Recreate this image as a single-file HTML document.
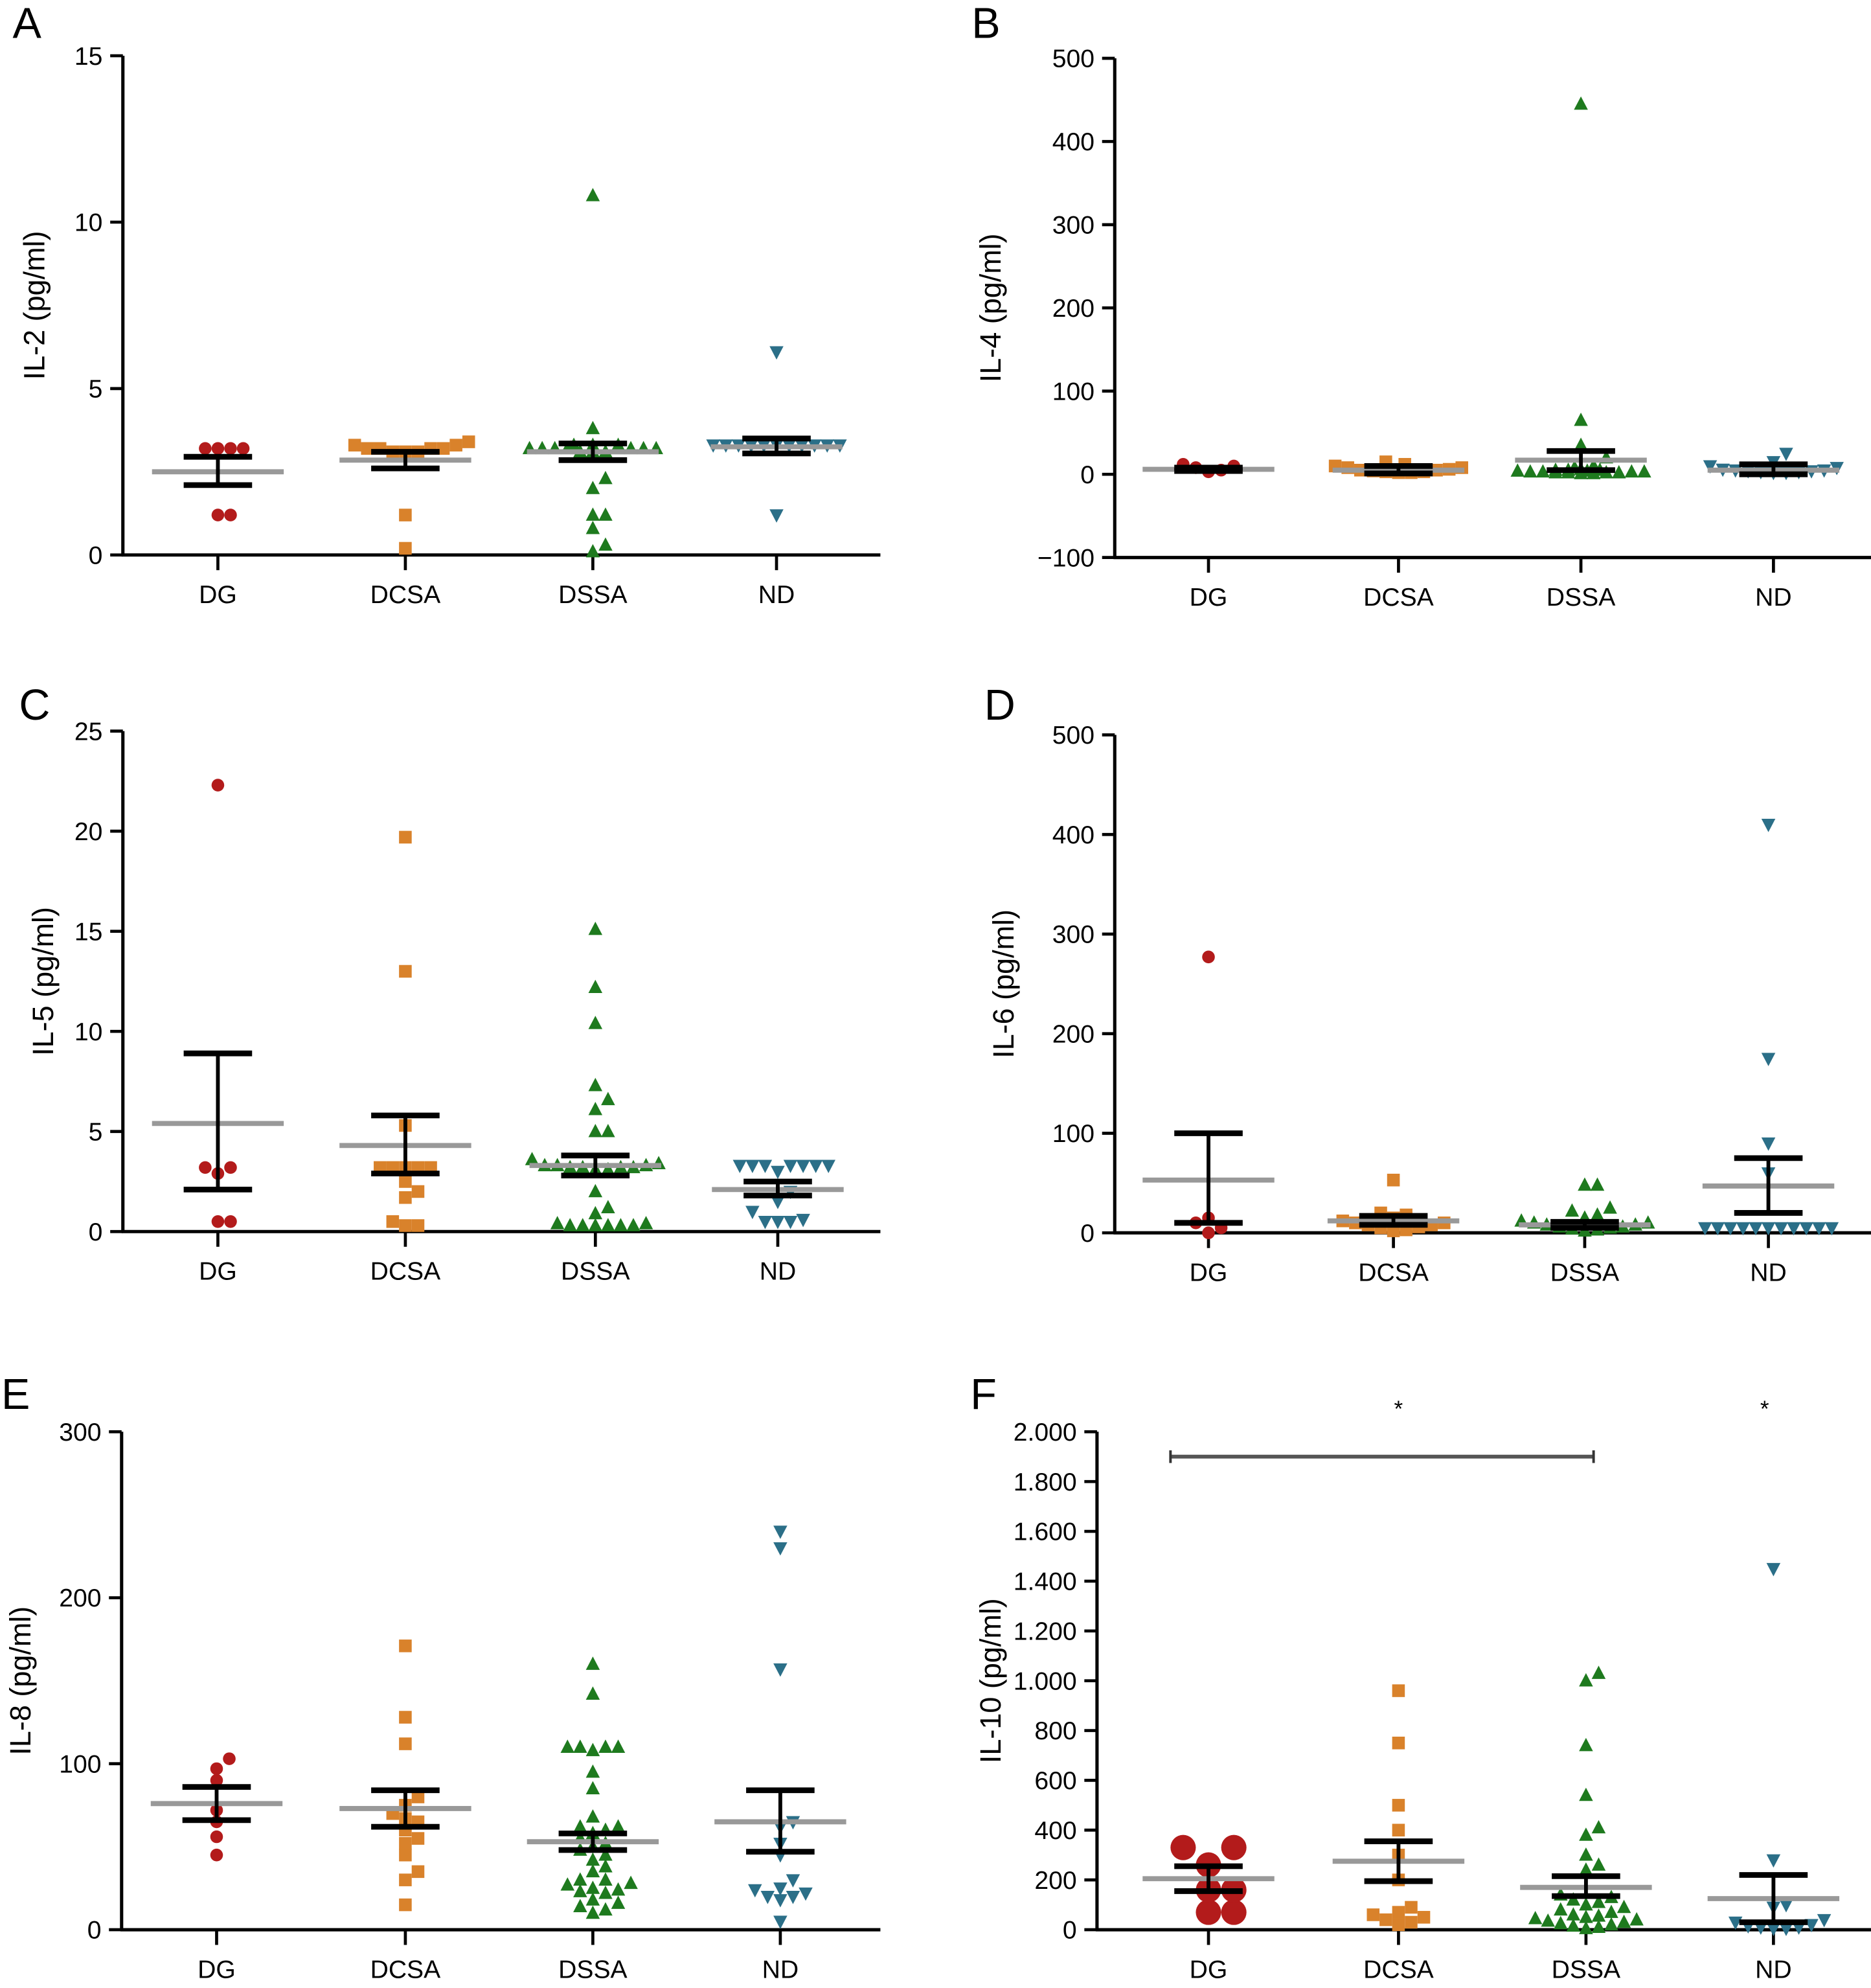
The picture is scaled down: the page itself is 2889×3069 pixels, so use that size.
<!DOCTYPE html>
<html><head><meta charset="utf-8"><title>Cytokine levels</title>
<style>
html,body{margin:0;padding:0;background:#fff;}
svg{display:block;}
text{font-family:"Liberation Sans",Arial,sans-serif;fill:#000;}
</style></head>
<body>
<svg id="fig" xmlns="http://www.w3.org/2000/svg" width="2889" height="3069" viewBox="0 0 1477 1569" preserveAspectRatio="none"></svg>
<script>
const categories = ["DG","DCSA","DSSA","ND"];

const il2Values = [[3.2,3.2,3.2,3.2,1.2,1.2],[3.1,3.2,3.3,3.2,3.1,3.4,3.2,3.1,3.2,3.3,1.2,0.2],[10.8,3.8,3.3,3.2,3.2,3.1,3.2,3.3,3.2,3.1,3.2,3.2,3.3,3.1,3.2,3.2,2.3,2.0,1.2,1.2,0.8,0.3,0.1],[6.1,3.3,3.3,3.3,3.3,3.3,3.3,3.3,3.3,3.3,3.3,3.3,1.2]];
const il2Means = [2.5,2.85,3.1,3.25];
const il2Lo = [2.1,2.6,2.85,3.05];
const il2Hi = [2.95,3.1,3.35,3.5];
const il2Ticks = [0,5,10,15];
const il2TickLabels = ["0","5","10","15"];

const il4Values = [[10,5,3,8,12],[15,10,8,5,3,2,12,6,4,2,8,5,3],[445,65,35,20,10,8,5,3,2,1,5,3,2,4,6,2,3,1,2,5,4,3],[25,15,10,8,5,3,2,4,6,5,3,2,4]];
const il4Means = [6,5,17,5];
const il4Lo = [4,1,5,0];
const il4Hi = [8,10,28,12];
const il4Ticks = [-100,0,100,200,300,400,500];
const il4TickLabels = ["\u2212100","0","100","200","300","400","500"];

const il5Values = [[22.3,3.2,3.2,2.9,0.5,0.5],[19.7,13,5.3,3.2,3.2,3.2,3.2,3.2,2.5,2.0,1.7,0.5,0.3,0.3],[15.1,12.2,10.4,7.3,6.6,6.1,5.0,5.0,3.6,3.4,3.3,3.3,3.3,3.2,3.2,3.2,3.2,3.1,3.1,2.0,1.2,0.9,0.4,0.4,0.3,0.3,0.3,0.3,0.3,0.3],[3.3,3.3,3.3,3.3,3.3,3.3,3.3,3.0,2.0,1.5,1.0,0.6,0.5,0.5,0.5]];
const il5Means = [5.4,4.3,3.3,2.1];
const il5Lo = [2.1,2.9,2.8,1.8];
const il5Hi = [8.9,5.8,3.8,2.5];
const il5Ticks = [0,5,10,15,20,25];
const il5TickLabels = ["0","5","10","15","20","25"];

const il6Values = [[277,15,10,5,0],[53,20,18,15,12,10,8,6,5,3,2,10,8],[48,48,25,22,18,15,12,10,8,6,5,4,3,2,6,8,10],[410,175,90,60,5,5,5,5,5,5,5,5,5,5,5]];
const il6Means = [53,12,8,47];
const il6Lo = [10,8,5,20];
const il6Hi = [100,17,11,75];
const il6Ticks = [0,100,200,300,400,500];
const il6TickLabels = ["0","100","200","300","400","500"];

const il8Values = [[103,97,90,72,65,56,45],[171,128,112,80,75,70,67,65,60,55,52,45,35,30,15],[160,142,110,110,108,110,110,95,85,68,62,62,60,58,55,52,50,48,45,42,38,35,30,30,28,27,25,24,23,22,18,16,14,12,10],[240,230,157,65,62,52,45,30,25,22,20,18,20,24,5]];
const il8Means = [76,73,53,65];
const il8Lo = [66,62,48,47];
const il8Hi = [86,84,58,84];
const il8Ticks = [0,100,200,300];
const il8TickLabels = ["0","100","200","300"];

const il10Values = [[330,330,260,160,160,70,70],[960,750,500,400,300,200,90,70,60,50,40,30,20],[1030,1000,740,540,410,380,300,260,240,140,130,120,110,100,90,80,70,60,55,50,45,40,35,30,25,20,15,10,5],[1450,280,100,90,40,30,20,15,10,10,5,5]];
const il10Means = [205,275,170,125];
const il10Lo = [155,195,135,30];
const il10Hi = [255,355,215,220];
const il10Ticks = [0,200,400,600,800,1000,1200,1400,1600,1800,2000];
const il10TickLabels = ["0","200","400","600","800","1.000","1.200","1.400","1.600","1.800","2.000"];

const colors = ["#b31b1b","#d9822b","#1e7a1e","#2b6f88"];
const NS = "http://www.w3.org/2000/svg";
const svg = document.getElementById("fig");

function mk(tag, attrs, parent){
  const e = document.createElementNS(NS, tag);
  for (const k in attrs) e.setAttribute(k, attrs[k]);
  (parent||svg).appendChild(e);
  return e;
}

function marker(g, shape, x, y, r, color){
  let e;
  if (shape===0){ e = mk("circle",{cx:x,cy:y,r:r,fill:color},g); }
  else if (shape===1){ e = mk("rect",{x:x-r,y:y-r,width:2*r,height:2*r,fill:color},g); }
  else if (shape===2){ e = mk("polygon",{points:`${x},${y-r*1.2} ${x-r*1.1},${y+r*0.9} ${x+r*1.1},${y+r*0.9}`,fill:color},g); }
  else { e = mk("polygon",{points:`${x},${y+r*1.2} ${x-r*1.1},${y-r*0.9} ${x+r*1.1},${y-r*0.9}`,fill:color},g); }
  
  
}

function panel(p){
  const g = mk("g",{});
  
  
  const ymin = p.ticks[0], ymax = p.ticks[p.ticks.length-1];
  const yS = v => p.y0 - (v - ymin)/(ymax - ymin)*(p.y0 - p.y1);
  const L = mk("text",{x:p.lx,y:p.ly,"font-size":34},g); L.textContent = p.letter;
   
  const ya = mk("line",{x1:p.ax,y1:p.y1,x2:p.ax,y2:p.y0+1,stroke:"#000","stroke-width":2.6},g);
   
  const xa = mk("line",{x1:p.ax-1,y1:p.y0,x2:p.xend,y2:p.y0,stroke:"#000","stroke-width":2.6},g);
   
  p.ticks.forEach((t,i)=>{
    const y = yS(t);
    mk("line",{x1:p.ax-10,y1:y,x2:p.ax,y2:y,stroke:"#000","stroke-width":2.4},g);
    const tl = mk("text",{x:p.ax-16,y:y+7,"font-size":20,"text-anchor":"end"},g);
    tl.textContent = p.tickLabels[i];
     
  });
  const tt = mk("text",{x:0,y:0,"font-size":23,"text-anchor":"middle",transform:`translate(${p.tx},${(p.y0+p.y1)/2}) rotate(-90)`},g);
  tt.textContent = p.title;
   
  categories.forEach((c,i)=>{
    const cx = p.cx[i];
    mk("line",{x1:cx,y1:p.y0,x2:cx,y2:p.y0+12,stroke:"#000","stroke-width":2.4},g);
    const cl = mk("text",{x:cx,y:p.y0+38,"font-size":20,"text-anchor":"middle"},g);
    cl.textContent = c;
     
    const r = (p.rs && p.rs[i]) || 5;
    const vals = p.values[i].slice().sort((a,b)=>a-b);
    const placed = [];
    const d = 2*r;
    const maxOff = 52;
    vals.forEach(v=>{
      const y = yS(v);
      let x = cx, found=false;
      for (let k=0;k<40;k++){
        const off = (k===0)?0:((k%2?1:-1)*Math.ceil(k/2)*d);
        if (Math.abs(off)>maxOff) break;
        x = cx+off;
        if (!placed.some(q=>Math.abs(q[0]-x)<d-0.5 && Math.abs(q[1]-y)<1.6*r)) {found=true;break;}
      }
      if(!found){ x = cx + ((placed.length%2)?1:-1)*(placed.length%5)*d*0.5; }
      placed.push([x,y]);
      marker(g,i,x,y,r,colors[i]);
    });
    const m = mk("line",{x1:cx-52,y1:yS(p.means[i]),x2:cx+52,y2:yS(p.means[i]),stroke:"#999","stroke-width":4},g);
     
    const ey = mk("line",{x1:cx,y1:yS(p.lo[i]),x2:cx,y2:yS(p.hi[i]),stroke:"#000","stroke-width":3},g);
     
    [p.lo[i],p.hi[i]].forEach(v=>{
      const cap = mk("line",{x1:cx-27,y1:yS(v),x2:cx+27,y2:yS(v),stroke:"#000","stroke-width":4.5},g);
       
    });
  });
  return {g,yS};
}

panel({name:"panel-a-il2",letter:"A",lx:10,ly:30,ax:97,y0:438,y1:44,xend:695,tx:35,cx:[172,320,468,613],values:il2Values,means:il2Means,lo:il2Lo,hi:il2Hi,ticks:il2Ticks,tickLabels:il2TickLabels,title:"IL-2 (pg/ml)"});
panel({name:"panel-b-il4",letter:"B",lx:767,ly:30,ax:880,y0:440,y1:46,xend:1477,tx:790,cx:[954,1104,1248,1400],values:il4Values,means:il4Means,lo:il4Lo,hi:il4Hi,ticks:il4Ticks,tickLabels:il4TickLabels,title:"IL-4 (pg/ml)"});
panel({name:"panel-c-il5",letter:"C",lx:15,ly:568,ax:97,y0:972,y1:577,xend:695,tx:42,cx:[172,320,470,614],values:il5Values,means:il5Means,lo:il5Lo,hi:il5Hi,ticks:il5Ticks,tickLabels:il5TickLabels,title:"IL-5 (pg/ml)"});
panel({name:"panel-d-il6",letter:"D",lx:777,ly:568,ax:880,y0:973,y1:580,xend:1477,tx:800,cx:[954,1100,1251,1396],values:il6Values,means:il6Means,lo:il6Lo,hi:il6Hi,ticks:il6Ticks,tickLabels:il6TickLabels,title:"IL-6 (pg/ml)"});
panel({name:"panel-e-il8",letter:"E",lx:1,ly:1112,ax:96,y0:1523,y1:1130,xend:695,tx:24,cx:[171,320,468,616],values:il8Values,means:il8Means,lo:il8Lo,hi:il8Hi,ticks:il8Ticks,tickLabels:il8TickLabels,title:"IL-8 (pg/ml)"});
const pf = panel({name:"panel-f-il10",letter:"F",lx:766,ly:1112,ax:866,y0:1523,y1:1130,xend:1477,tx:790,cx:[954,1104,1252,1400],values:il10Values,means:il10Means,lo:il10Lo,hi:il10Hi,ticks:il10Ticks,tickLabels:il10TickLabels,title:"IL-10 (pg/ml)",rs:[10,5,5,5]});

const sig = mk("line",{x1:924,y1:pf.yS(1900),x2:1258,y2:pf.yS(1900),stroke:"#555","stroke-width":3});
 
mk("line",{x1:924,y1:pf.yS(1900)-5,x2:924,y2:pf.yS(1900)+5,stroke:"#333","stroke-width":2});
mk("line",{x1:1258,y1:pf.yS(1900)-5,x2:1258,y2:pf.yS(1900)+5,stroke:"#333","stroke-width":2});
[1104,1393].forEach(x=>{
  const s = mk("text",{x:x,y:1118,"font-size":18,"text-anchor":"middle"});
  s.textContent = "*";
   
});
</script>
</body></html>
